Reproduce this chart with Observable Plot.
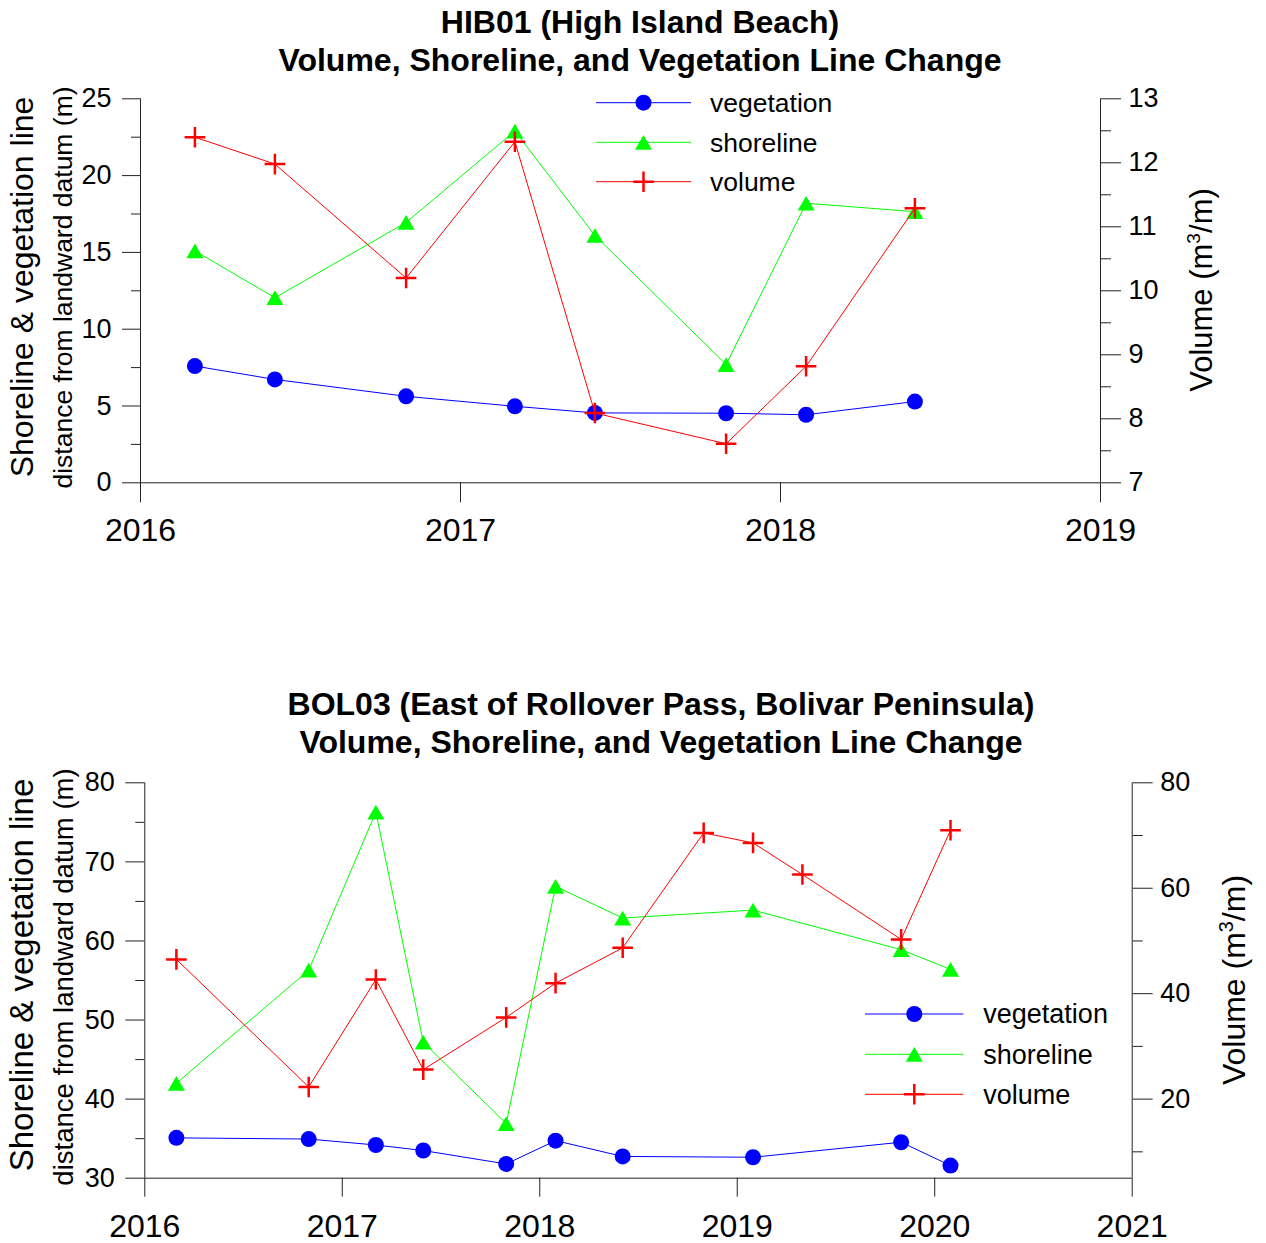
<!DOCTYPE html>
<html><head><meta charset="utf-8">
<script src="https://cdn.jsdelivr.net/npm/d3@7"></script>
<script src="https://cdn.jsdelivr.net/npm/@observablehq/plot@0.6"></script>
<style>
body{margin:0;background:#fff;}
#chart{width:1266px;height:1243px;overflow:hidden;background:#fff;}
#chart svg{display:block;overflow:visible;}
</style></head><body><div id="chart"></div>
<script>
const FONT = "'Liberation Sans', Arial, Helvetica, sans-serif";

// ---- HIB01 (High Island Beach) ----
const hibDates = [2016.17, 2016.42, 2016.83, 2017.17, 2017.42, 2017.83, 2018.08, 2018.42];
const hibVegetation = [7.6, 6.73, 5.63, 4.98, 4.55, 4.53, 4.43, 5.29];
const hibShoreline = [15.1, 12.05, 16.95, 22.9, 16.1, 7.7, 18.2, 17.65];
const hibVolume = [12.4, 11.98, 10.2, 12.33, 8.09, 7.61, 8.82, 11.29];
const hibYearTicks = [2016, 2017, 2018, 2019];
const hibDistTicks = [0, 5, 10, 15, 20, 25];
const hibDistMinor = [2.5, 7.5, 12.5, 17.5, 22.5];
const hibVolTicks = [7, 8, 9, 10, 11, 12, 13];
const hibVolMinor = [7.5, 8.5, 9.5, 10.5, 11.5, 12.5];

// ---- BOL03 (East of Rollover Pass, Bolivar Peninsula) ----
const bolDates = [2016.16, 2016.83, 2017.17, 2017.41, 2017.83, 2018.08, 2018.42, 2019.08, 2019.83, 2020.08];
const bolVegetation = [35.1, 34.95, 34.2, 33.5, 31.8, 34.75, 32.75, 32.65, 34.55, 31.6];
const bolShoreline = [42.0, 56.3, 76.3, 47.2, 36.9, 66.9, 62.9, 63.9, 58.9, 56.4];
const bolVolumeDates = [2016.16, 2016.83, 2017.17, 2017.41, 2017.83, 2018.08, 2018.42, 2018.83, 2019.08, 2019.33, 2019.83, 2020.08];
const bolVolume = [46.5, 22.3, 42.7, 25.6, 35.5, 42.0, 48.7, 70.5, 68.6, 62.6, 50.3, 71.0];
const bolYearTicks = [2016, 2017, 2018, 2019, 2020, 2021];
const bolDistTicks = [30, 40, 50, 60, 70, 80];
const bolDistMinor = [35, 45, 55, 65, 75];
const bolVolTicks = [20, 40, 60, 80];
const bolVolMinor = [10, 30, 50, 70];

const seriesNames = ["vegetation", "shoreline", "volume"];
const seriesColors = ["#0000ff", "#00ff00", "#ff0000"];

const plusSymbol = {draw(ctx, size) { const r = Math.sqrt(size / Math.PI); ctx.moveTo(-r, 0); ctx.lineTo(r, 0); ctx.moveTo(0, -r); ctx.lineTo(0, r); }};
const triSymbol = {draw(ctx, size) { const r = Math.sqrt(size / Math.PI); const h = r * Math.sqrt(3); ctx.moveTo(0, -h / 2); ctx.lineTo(r, h / 2); ctx.lineTo(-r, h / 2); ctx.closePath(); }};
const circSymbol = {draw(ctx, size) { const r = Math.sqrt(size / Math.PI); ctx.moveTo(r, 0); ctx.arc(0, 0, r, 0, 2 * Math.PI); }};
const markerR = [8, 8.5, 10.3];
const markerSymbols = [circSymbol, triSymbol, plusSymbol];

function panel(cfg) {
  const [y0, y1] = cfg.yDomain, [v0, v1] = cfg.vDomain;
  const toLeft = v => y0 + (v - v0) / (v1 - v0) * (y1 - y0);
  const fromLeft = y => v0 + (y - y0) / (y1 - y0) * (v1 - v0);
  const distRows = cfg.dates.map((d, i) => ({date: d, veg: cfg.veg[i], shore: cfg.shore[i]}));
  const volRows = cfg.volDates.map((d, i) => ({date: d, vol: cfg.vol[i]}));
  const ax = "#222";
  const plot = Plot.plot({
    width: 1266, height: cfg.height,
    marginTop: cfg.mt, marginBottom: cfg.mb, marginLeft: cfg.ml, marginRight: cfg.mr,
    x: {domain: cfg.xDomain},
    y: {domain: cfg.yDomain},
    style: {fontFamily: FONT, color: "#000", background: "transparent", overflow: "visible"},
    marks: [
      Plot.ruleX(cfg.xDomain, {stroke: ax}),
      Plot.ruleY([y0], {stroke: ax}),
      Plot.axisX(cfg.xTicks, {anchor: "bottom", tickSize: cfg.xTick, tickPadding: cfg.xPad, fontSize: 32, tickFormat: d => String(d), label: null, stroke: ax}),
      Plot.axisY(cfg.yTicks, {anchor: "left", tickSize: cfg.yTick, tickPadding: 11, fontSize: 27, tickFormat: d => String(d), label: null, stroke: ax}),
      Plot.axisY(cfg.yMinor, {anchor: "left", tickSize: 9, tickFormat: () => "", label: null, stroke: ax}),
      Plot.axisY(cfg.vTicks.map(toLeft), {anchor: "right", tickSize: 20, tickPadding: 8, fontSize: 27, tickFormat: d => String(Math.round(fromLeft(d))), label: null, stroke: ax}),
      Plot.axisY(cfg.vMinor.map(toLeft), {anchor: "right", tickSize: 10, tickFormat: () => "", label: null, stroke: ax}),
      Plot.line(distRows, {x: "date", y: "veg", stroke: seriesColors[0], strokeWidth: 1}),
      Plot.dot(distRows, {x: "date", y: "veg", symbol: markerSymbols[0], r: markerR[0], fill: seriesColors[0], stroke: "none"}),
      Plot.line(distRows, {x: "date", y: "shore", stroke: seriesColors[1], strokeWidth: 1}),
      Plot.dot(distRows, {x: "date", y: "shore", symbol: markerSymbols[1], r: markerR[1], fill: seriesColors[1], stroke: "none"}),
      Plot.line(volRows, {x: "date", y: d => toLeft(d.vol), stroke: seriesColors[2], strokeWidth: 1}),
      Plot.dot(volRows, {x: "date", y: d => toLeft(d.vol), symbol: markerSymbols[2], r: markerR[2], fill: "none", stroke: seriesColors[2], strokeWidth: 2.5})
    ]
  });
  const svg = d3.select(plot);
  // titles
  cfg.titles.forEach((t, i) => {
    svg.append("text").attr("x", cfg.titleX).attr("y", cfg.titleY[i])
      .attr("text-anchor", "middle").attr("font-family", FONT).attr("font-weight", "bold")
      .attr("font-size", 32).attr("fill", "#000").text(t);
  });
  // left axis titles
  svg.append("text").attr("transform", `translate(${cfg.bigX},${cfg.bigY}) rotate(-90)`)
    .attr("text-anchor", "middle").attr("font-family", FONT).attr("font-size", cfg.bigSize)
    .attr("fill", "#000").text("Shoreline & vegetation line");
  svg.append("text").attr("transform", `translate(${cfg.smallX},${cfg.smallY}) rotate(-90)`)
    .attr("text-anchor", "middle").attr("font-family", FONT).attr("font-size", cfg.smallSize)
    .attr("fill", "#000").text("distance from landward datum (m)");
  // right axis title
  const rs = cfg.rightSize;
  const rt = svg.append("text").attr("transform", `translate(${cfg.rightX},${cfg.rightY}) rotate(-90)`)
    .attr("text-anchor", "middle").attr("font-family", FONT).attr("font-size", rs).attr("fill", "#000");
  rt.append("tspan").text("Volume (m");
  rt.append("tspan").attr("font-size", rs * 0.62).attr("dy", -rs * 0.38).text("3");
  rt.append("tspan").attr("dy", rs * 0.38).text("/m)");
  // legend
  const L = cfg.legend;
  seriesNames.forEach((name, i) => {
    const y = L.ys[i];
    const g = svg.append("g");
    g.append("line").attr("x1", L.x1).attr("x2", L.x2).attr("y1", y).attr("y2", y)
      .attr("stroke", seriesColors[i]).attr("stroke-width", 1);
    const size = markerR[i] * markerR[i] * Math.PI;
    const p = g.append("path").attr("transform", `translate(${L.xm},${y})`)
      .attr("d", d3.symbol(markerSymbols[i], size)());
    if (i === 2) p.attr("fill", "none").attr("stroke", seriesColors[i]).attr("stroke-width", 2.5);
    else p.attr("fill", seriesColors[i]);
    g.append("text").attr("x", L.xt).attr("y", y).attr("dy", "0.35em")
      .attr("text-anchor", "start")
      .attr("font-family", FONT).attr("font-size", L.size).attr("fill", "#000").text(name);
  });
  return plot;
}

const chart = document.getElementById("chart");
chart.appendChild(panel({
  height: 620, mt: 98.3, mb: 137.7, ml: 140, mr: 166,
  xDomain: [2016, 2019], yDomain: [0, 25], vDomain: [7, 13],
  dates: hibDates, veg: hibVegetation, shore: hibShoreline,
  volDates: hibDates, vol: hibVolume,
  xTicks: hibYearTicks, yTicks: hibDistTicks, yMinor: hibDistMinor,
  vTicks: hibVolTicks, vMinor: hibVolMinor,
  xTick: 20, xPad: 15, yTick: 18,
  titles: ["HIB01 (High Island Beach)", "Volume, Shoreline, and Vegetation Line Change"],
  titleX: 640, titleY: [33, 71],
  bigX: 33, bigY: 287, bigSize: 32,
  smallX: 71.5, smallY: 287.5, smallSize: 26.5,
  rightX: 1212, rightY: 290, rightSize: 31,
  legend: {x1: 596, x2: 691, xm: 643.5, xt: 710, ys: [102.7, 142.3, 181.7], size: 26.5}
}));
chart.appendChild(panel({
  height: 623, mt: 162.3, mb: 65.3, ml: 144.3, mr: 134.3,
  xDomain: [2016, 2021], yDomain: [30, 80], vDomain: [5, 80],
  dates: bolDates, veg: bolVegetation, shore: bolShoreline,
  volDates: bolVolumeDates, vol: bolVolume,
  xTicks: bolYearTicks, yTicks: bolDistTicks, yMinor: bolDistMinor,
  vTicks: bolVolTicks, vMinor: bolVolMinor,
  xTick: 19, xPad: 17, yTick: 19,
  titles: ["BOL03 (East of Rollover Pass, Bolivar Peninsula)", "Volume, Shoreline, and Vegetation Line Change"],
  titleX: 661, titleY: [94.5, 133],
  bigX: 33, bigY: 355, bigSize: 33,
  smallX: 73, smallY: 357, smallSize: 27.5,
  rightX: 1245, rightY: 360, rightSize: 32,
  legend: {x1: 865, x2: 963.3, xm: 914.3, xt: 983.3, ys: [394, 434.3, 474.3], size: 27}
}));
</script>
</body></html>
